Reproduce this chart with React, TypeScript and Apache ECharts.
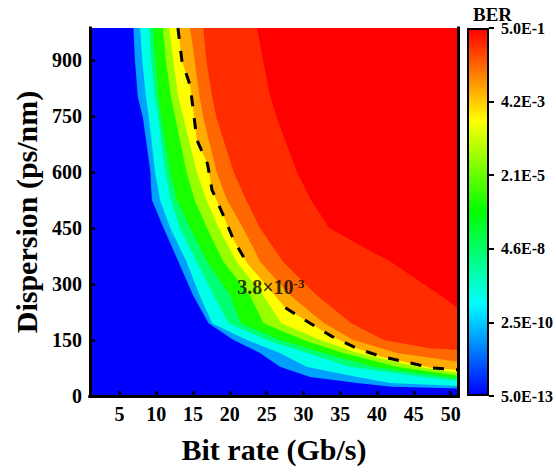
import React, { useEffect, useRef } from 'react';
import * as echarts from 'echarts';

// ---------- data ----------
const bitRateRange = [1, 51];
const dispersionRange = [0, 985];
const bitRateTicks = [5, 10, 15, 20, 25, 30, 35, 40, 45, 50];
const dispersionTicks = [0, 150, 300, 450, 600, 750, 900];

const colorbarTickValues = [5.0e-13, 2.5e-10, 4.6e-8, 2.1e-5, 4.2e-3, 5.0e-1];
const colorbarTickLabels = ['5.0E-13', '2.5E-10', '4.6E-8', '2.1E-5', '4.2E-3', '5.0E-1'];

// BER contour levels (lowest to highest) and their boundaries [bitRate, dispersion]
const contourLevels = [1e-11, 4e-10, 7e-9, 2e-7, 2e-5, 3e-4, 3.8e-3, 2.2e-2, 9e-2, 3.5e-1];

const contour1 = [[6.9, 985], [7.1, 900], [7.5, 800], [8.2, 744], [9.2, 600], [9.4, 525], [11.0, 450], [13.0, 360], [15.0, 270], [17.1, 195], [20.5, 150], [24.1, 115], [26.8, 78], [30.9, 51], [37.3, 35], [42, 25], [51, 20]];
const contour2 = [[7.8, 985], [8.1, 900], [8.6, 800], [9.0, 744], [9.85, 600], [10.5, 525], [11.9, 450], [14.1, 360], [15.9, 270], [17.6, 195], [22.3, 150], [26.8, 115], [30.4, 78], [37.3, 51], [41.8, 35], [51, 27]];
const contour3 = [[9.0, 985], [9.3, 900], [9.8, 800], [10.3, 744], [11.2, 600], [12.0, 525], [13.2, 450], [15.5, 360], [17.8, 270], [19.8, 195], [25.0, 150], [30.5, 115], [36.3, 78], [46.3, 51], [51, 40]];
const contour4 = [[9.6, 985], [9.9, 900], [10.3, 800], [10.7, 744], [11.9, 600], [12.8, 525], [14.6, 450], [16.9, 360], [20.0, 270], [21.5, 195], [26.8, 150], [32.7, 115], [39.5, 78], [51, 47]];
const contour5 = [[10.9, 985], [11.3, 900], [12.0, 800], [12.6, 744], [14.1, 600], [15.2, 525], [16.9, 450], [19.1, 360], [22.7, 270], [24.6, 195], [30.0, 150], [35.4, 115], [42.7, 78], [51, 54]];
const contour6 = [[11.8, 985], [12.3, 900], [13.0, 800], [13.7, 744], [15.5, 600], [16.8, 525], [18.5, 450], [20.9, 360], [24.5, 270], [27.0, 195], [32.3, 150], [37.3, 115], [45.4, 78], [51, 62]];
// threshold contour (BER = 3.8e-3), split where its label sits
const thresholdBER = 3.8e-3;
const thresholdUpper = [[12.95, 985], [13.49, 897], [14.62, 830], [15.07, 758], [15.53, 685], [16.97, 621], [17.57, 552], [19.15, 482], [20.51, 418], [22.34, 356]];
const thresholdLower = [[27.55, 236], [30.96, 194], [33.91, 159], [37.32, 127], [40.49, 106], [44.12, 90], [47.53, 75], [51, 70]];
const thresholdLabelAt = [21, 292];
const contour8 = [[14.6, 985], [15.2, 900], [15.9, 800], [16.4, 744], [18.2, 600], [19.6, 525], [21.8, 450], [24.1, 360], [28.2, 270], [32.8, 195], [36.8, 150], [42.7, 115], [51, 92]];
const contour9 = [[16.4, 985], [16.8, 900], [17.6, 800], [18.2, 744], [20.5, 600], [22.2, 525], [24.1, 450], [27.2, 360], [31.8, 270], [36.5, 195], [40.9, 150], [47.2, 128], [51, 123]];
const contour10 = [[23.7, 985], [24.5, 900], [25.5, 800], [26.4, 744], [29.1, 600], [31.0, 525], [33.5, 450], [38.0, 400], [41.8, 360], [48.6, 270], [51, 235]];

// ---------- helpers ----------
const FONT = 'Liberation Serif';
const cmapStops: [number, number[]][] = [
  [0, [0, 0, 255]],
  [0.25, [0, 255, 255]],
  [0.5, [0, 255, 0]],
  [0.75, [255, 255, 0]],
  [1, [255, 0, 0]],
];
function cmapColor(t: number): string {
  const tt = Math.max(0, Math.min(1, t));
  for (let i = 1; i < cmapStops.length; i++) {
    const [t0, c0] = cmapStops[i - 1];
    const [t1, c1] = cmapStops[i];
    if (tt <= t1) {
      const f = (tt - t0) / (t1 - t0);
      return `rgb(${c0.map((v, j) => Math.round(v + (c1[j] - v) * f)).join(',')})`;
    }
  }
  return 'rgb(255,0,0)';
}
function berToT(ber: number): number {
  const l = Math.log10(ber);
  const ls = colorbarTickValues.map((v) => Math.log10(v));
  const n = ls.length - 1;
  if (l <= ls[0]) return 0;
  for (let i = 1; i <= n; i++) {
    if (l <= ls[i]) return (i - 1 + (l - ls[i - 1]) / (ls[i] - ls[i - 1])) / n;
  }
  return 1;
}

export default function App() {
  const ref = useRef<HTMLDivElement>(null);
  useEffect(() => {
    if (!ref.current) return;
    const chart = echarts.init(ref.current, undefined, { renderer: 'svg' });

    const contours = [contour1, contour2, contour3, contour4, contour5, contour6,
      [...thresholdUpper, ...thresholdLower], contour8, contour9, contour10];
    const levelT = contourLevels.map(berToT);
    // band k lies below contour k
    const bandColors = levelT.map((t, k) => (k === 0 ? cmapColor(0) : cmapColor((levelT[k - 1] + t) / 2)));
    const topColor = cmapColor(1);

    const xMin = bitRateRange[0];
    const xMax = bitRateRange[1];
    const yMax = dispersionRange[1];

    const fillSeries: any[] = [];
    fillSeries.push({
      type: 'line', data: [[xMin, yMax], [xMax, yMax]], symbol: 'none',
      lineStyle: { width: 0 }, areaStyle: { color: topColor, opacity: 1 }, silent: true, z: 2,
    });
    for (let k = contours.length - 1; k >= 0; k--) {
      fillSeries.push({
        type: 'line',
        data: [[xMin, yMax], ...contours[k]],
        symbol: 'none',
        lineStyle: { width: 0 },
        areaStyle: { color: bandColors[k], opacity: 1 },
        silent: true,
        z: 2,
      });
    }

    const exp = Math.floor(Math.log10(thresholdBER));
    const mant = (thresholdBER / Math.pow(10, exp)).toFixed(1);

    const dashStyle = { color: '#000', width: 3, type: [11, 12] as any };

    const axisFont = { fontFamily: FONT, fontWeight: 'bold' as const, color: '#000' };

    const stops = cmapStops.map(([t, c]) => ({ offset: t, color: `rgb(${c.join(',')})` }));

    chart.setOption({
      animation: false,
      backgroundColor: '#fff',
      title: {
        text: 'BER', left: 468, top: 0,
        textStyle: { ...axisFont, fontSize: 19 },
      },
      grid: [
        { left: 90, top: 28, width: 368, height: 368 },
        { left: 467, top: 28, width: 23, height: 368 },
      ],
      xAxis: [
        {
          type: 'value', gridIndex: 0, min: xMin, max: xMax, position: 'bottom', z: 5,
          axisLine: { show: true, lineStyle: { color: '#000', width: 3, cap: 'square' } },
          axisTick: { show: true, inside: true, length: 5, lineStyle: { color: '#000', width: 2.5 }, customValues: bitRateTicks },
          axisLabel: { show: true, customValues: bitRateTicks, margin: 8, fontSize: 20, ...axisFont },
          splitLine: { show: false },
          name: 'Bit rate (Gb/s)', nameLocation: 'middle', nameGap: 38,
          nameTextStyle: { ...axisFont, fontSize: 30 },
        },
        {
          type: 'value', gridIndex: 0, min: xMin, max: xMax, position: 'top', z: 5,
          axisLine: { show: true, lineStyle: { color: '#000', width: 3, cap: 'square' } },
          axisTick: { show: false }, axisLabel: { show: false }, splitLine: { show: false },
        },
        { type: 'category', gridIndex: 1, data: ['BER'], show: false },
      ],
      yAxis: [
        {
          type: 'value', gridIndex: 0, min: dispersionRange[0], max: yMax, position: 'left', z: 5,
          axisLine: { show: true, lineStyle: { color: '#000', width: 3, cap: 'square' } },
          axisTick: { show: true, inside: true, length: 5, lineStyle: { color: '#000', width: 2.5 }, customValues: dispersionTicks },
          axisLabel: { show: true, customValues: dispersionTicks, margin: 8, fontSize: 20, ...axisFont },
          splitLine: { show: false },
          name: 'Dispersion (ps/nm)', nameLocation: 'middle', nameGap: 49,
          nameTextStyle: { ...axisFont, fontSize: 30 },
        },
        {
          type: 'value', gridIndex: 0, min: dispersionRange[0], max: yMax, position: 'right', z: 5,
          axisLine: { show: true, lineStyle: { color: '#000', width: 3, cap: 'square' } },
          axisTick: { show: false }, axisLabel: { show: false }, splitLine: { show: false },
        },
        {
          type: 'value', gridIndex: 1, min: 0, max: colorbarTickLabels.length - 1, interval: 1, position: 'right', z: 5,
          axisLine: { show: false },
          axisTick: { show: true, inside: false, length: 5, lineStyle: { color: '#000', width: 2 } },
          axisLabel: {
            show: true, margin: 12, fontSize: 16, ...axisFont,
            formatter: (v: number) => colorbarTickLabels[Math.round(v)] ?? '',
          },
          splitLine: { show: false },
        },
      ],
      series: [
        ...fillSeries,
        {
          type: 'line', data: thresholdUpper, symbol: 'none', lineStyle: dashStyle, z: 3, silent: true,
        },
        {
          type: 'line', data: thresholdLower, symbol: 'none', lineStyle: dashStyle, z: 3, silent: true,
        },
        {
          type: 'scatter', data: [thresholdLabelAt], symbolSize: 0, z: 4, silent: true,
          label: {
            show: true, position: [0, 0], align: 'left', verticalAlign: 'middle',
            formatter: `{a|${mant}×10}{b|${exp}}`,
            rich: {
              a: { ...axisFont, fontSize: 20, verticalAlign: 'bottom' },
              b: { ...axisFont, fontSize: 13, verticalAlign: 'top' },
            },
          },
        },
        {
          type: 'bar', xAxisIndex: 2, yAxisIndex: 2, data: [colorbarTickLabels.length - 1], barWidth: '100%', silent: true,
          itemStyle: {
            color: new echarts.graphic.LinearGradient(0, 1, 0, 0, stops),
            borderColor: '#000', borderWidth: 2,
          },
        },
      ],
    });
    return () => chart.dispose();
  }, []);
  return (
    <div
      ref={ref}
      style={{ position: 'fixed', left: 0, top: 0, width: 556, height: 476, background: '#fff' }}
    />
  );
}
